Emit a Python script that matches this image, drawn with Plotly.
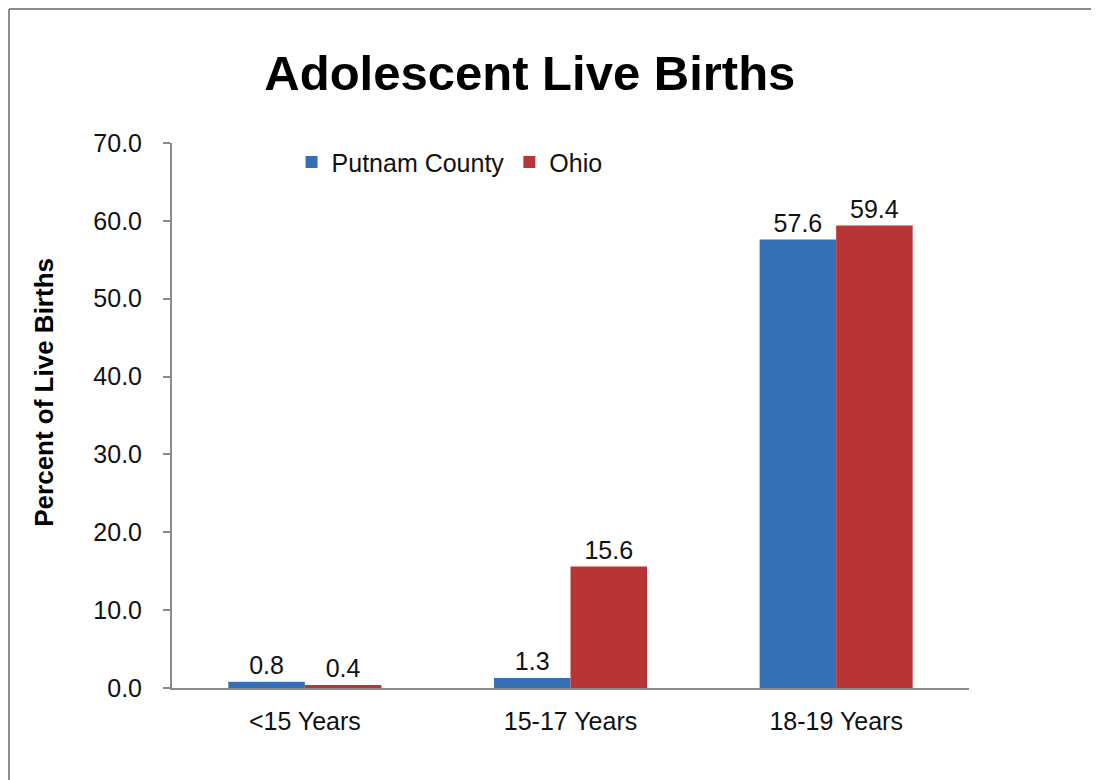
import plotly.graph_objects as go

# data
age_groups = ["<15 Years", "15-17 Years", "18-19 Years"]
putnam_pct = [0.8, 1.3, 57.6]
ohio_pct = [0.4, 15.6, 59.4]

FONT = "Liberation Sans, Arial, sans-serif"

fig = go.Figure()
fig.add_trace(go.Bar(
    x=age_groups, y=putnam_pct, name="Putnam County",
    marker=dict(color="#3570B6", line=dict(width=0)),
    text=[f"{v:.1f}" for v in putnam_pct], textposition="outside",
    textfont=dict(size=25, color="#111111"), cliponaxis=False,
))
fig.add_trace(go.Bar(
    x=age_groups, y=ohio_pct, name="Ohio",
    marker=dict(color="#B73534", line=dict(width=0)),
    text=[f"{v:.1f}" for v in ohio_pct], textposition="outside",
    textfont=dict(size=25, color="#111111"), cliponaxis=False,
))

frame = dict(color="#8c8c8c", width=2)

# the page body adds an 8px offset; the figure is shrunk by 8px so the
# page does not overflow the window, and margins are pulled in to match
fig.update_layout(
    width=1091, height=772,
    paper_bgcolor="white", plot_bgcolor="white",
    font=dict(family=FONT, size=25, color="#111111"),
    barmode="group", bargap=0.424, bargroupgap=0,
    margin=dict(l=164, r=130, t=135, b=92),
    title=dict(
        text="<b>Adolescent Live Births</b>",
        font=dict(size=49, color="black"),
        xref="paper", x=0.449, xanchor="center",
        yref="container", y=0.9158, yanchor="middle",
    ),
    xaxis=dict(
        showline=True, linecolor="#8a8a8a", linewidth=2,
        ticks="outside", ticklen=10, tickcolor="rgba(0,0,0,0)",
        showgrid=False, zeroline=False,
        tickfont=dict(size=25),
    ),
    yaxis=dict(
        range=[0, 70], dtick=10, tickformat=".1f",
        showline=True, linecolor="#8a8a8a", linewidth=2,
        ticks="outside", ticklen=7, tickcolor="#8a8a8a", tickwidth=2,
        ticklabelstandoff=16,
        showgrid=False, zeroline=False,
        tickfont=dict(size=25),
    ),
    legend=dict(
        orientation="h", x=0.15, xanchor="left", y=1.007, yanchor="top",
        font=dict(size=25), bgcolor="rgba(0,0,0,0)",
        itemwidth=30, tracegroupgap=0,
    ),
    annotations=[dict(
        text="<b>Percent of Live Births</b>", textangle=-90,
        xref="paper", yref="paper", x=-0.161, y=0.543,
        xanchor="center", yanchor="middle", showarrow=False,
        font=dict(size=26, color="black"),
    )],
    # chart frame: only its left and top edges fall inside the page
    shapes=[
        dict(type="line", xref="paper", yref="paper",
             x0=-0.2045, x1=-0.2045, y0=-0.2, y1=1.2459, line=frame),
        dict(type="line", xref="paper", yref="paper",
             x0=-0.2045, x1=1.2, y0=1.2459, y1=1.2459, line=frame),
    ],
)

fig.write_html("out.html")
